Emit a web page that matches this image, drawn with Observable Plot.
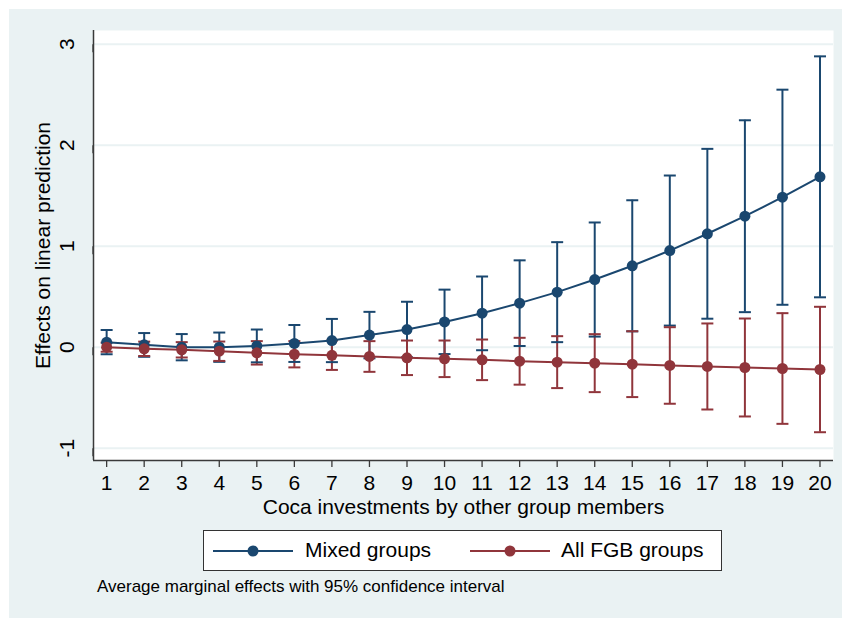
<!DOCTYPE html>
<html><head><meta charset="utf-8">
<script src="https://cdn.jsdelivr.net/npm/d3@7"></script>
<script src="https://cdn.jsdelivr.net/npm/@observablehq/plot@0.6"></script>
<style>
body{margin:0;background:#fff;}
#wrap{position:relative;width:842px;height:618px;font-family:"Liberation Sans",Arial,Helvetica,sans-serif;color:#000;overflow:hidden;}
#panel{position:absolute;left:9px;top:9px;width:833px;height:609px;background:#eaf2f3;}
#chart{position:absolute;left:0;top:0;}
#legend{position:absolute;left:203px;top:530px;width:517px;height:39px;border:1px solid #333;background:#fff;}
.sw{position:absolute;top:10px;}
.lt{position:absolute;top:7px;font-size:21px;line-height:24px;white-space:nowrap;}
#caption{position:absolute;left:97px;top:577px;font-size:17px;line-height:20px;white-space:nowrap;}
</style>
</head><body>
<div id="wrap"><div id="panel"></div><div id="chart"></div>
<div id="legend"></div>
<div id="caption"></div>
</div>
<script>
// ---- data ----
const investments = [1,2,3,4,5,6,7,8,9,10,11,12,13,14,15,16,17,18,19,20];
const seriesNames = ["Mixed groups", "All FGB groups"];
const seriesColors = ["#1a476f", "#90353b"];
const mixedMean = [0.05,0.024,0.0,0.0,0.013,0.037,0.066,0.12,0.175,0.25,0.337,0.436,0.545,0.67,0.806,0.957,1.123,1.297,1.485,1.687];
const mixedLo   = [-0.07,-0.095,-0.13,-0.145,-0.15,-0.146,-0.148,-0.11,-0.10,-0.068,-0.03,0.012,0.05,0.105,0.157,0.214,0.282,0.347,0.42,0.494];
const mixedHi   = [0.17,0.14,0.13,0.145,0.175,0.22,0.28,0.35,0.45,0.57,0.70,0.86,1.04,1.235,1.455,1.70,1.964,2.247,2.55,2.88];
const fgbMean   = [0.0,-0.016,-0.026,-0.04,-0.056,-0.07,-0.08,-0.092,-0.105,-0.115,-0.125,-0.139,-0.148,-0.158,-0.168,-0.181,-0.191,-0.201,-0.211,-0.221];
const fgbLo     = [-0.045,-0.087,-0.102,-0.136,-0.172,-0.2,-0.225,-0.244,-0.276,-0.296,-0.326,-0.371,-0.405,-0.445,-0.494,-0.56,-0.617,-0.686,-0.759,-0.842];
const fgbHi     = [0.045,0.055,0.05,0.056,0.06,0.06,0.065,0.06,0.066,0.066,0.076,0.093,0.109,0.129,0.158,0.198,0.235,0.284,0.337,0.40];
const yTicks = [-1,0,1,2,3];
const xTitle = "Coca investments by other group members";
const yTitle = "Effects on linear prediction";
const captionText = "Average marginal effects with 95% confidence interval";

const xDomain = [0.65, 20.36];
const yDomain = [-1.122, 3.136];

const rows = [];
investments.forEach((x,i)=>rows.push({series:seriesNames[0], x, mean:mixedMean[i], lo:mixedLo[i], hi:mixedHi[i]}));
investments.forEach((x,i)=>rows.push({series:seriesNames[1], x, mean:fgbMean[i], lo:fgbLo[i], hi:fgbHi[i]}));

const cap = {draw(ctx){ ctx.moveTo(-6,0); ctx.lineTo(6,0); }};
const axisColor = "#3a3a3a";

const plot = Plot.plot({
  width: 842, height: 618,
  marginLeft: 93, marginRight: 9, marginTop: 30, marginBottom: 158,
  style: {background: "transparent", fontFamily: "'Liberation Sans', Arial, Helvetica, sans-serif", color: "#000"},
  x: {domain: xDomain},
  y: {domain: yDomain},
  color: {domain: seriesNames, range: seriesColors},
  marks: [
    Plot.frame({fill: "white", stroke: "none"}),
    Plot.gridY(yTicks, {stroke: "#eaf2f3", strokeOpacity: 1, strokeWidth: 2}),
    Plot.axisY({ticks: yTicks, tickSize: 8, tickPadding: 18, rotate: -90, textAnchor: "middle", fontSize: 21, label: null, stroke: axisColor, strokeWidth: 1.3, tickFormat: d => String(d)}),
    Plot.axisX({ticks: investments, tickSize: 7, tickPadding: 8, fontSize: 21, label: null, stroke: axisColor, strokeWidth: 1.3, tickFormat: d => String(d)}),
    Plot.ruleX([xDomain[0]], {stroke: axisColor, strokeWidth: 1.5}),
    Plot.ruleY([yDomain[0]], {stroke: axisColor, strokeWidth: 1.5}),
    Plot.ruleX(rows, {x: "x", y1: "lo", y2: "hi", stroke: "series", strokeWidth: 2}),
    Plot.dot(rows, {x: "x", y: "lo", symbol: cap, stroke: "series", fill: "none", strokeWidth: 2}),
    Plot.dot(rows, {x: "x", y: "hi", symbol: cap, stroke: "series", fill: "none", strokeWidth: 2}),
    Plot.line(rows, {x: "x", y: "mean", z: "series", stroke: "series", strokeWidth: 2}),
    Plot.dot(rows, {x: "x", y: "mean", fill: "series", stroke: "none", r: 5.5}),
    Plot.text([yTitle], {text: d => d, frameAnchor: "left", dx: -50, rotate: -90, textAnchor: "middle", lineAnchor: "middle", fontSize: 21}),
    Plot.text([xTitle], {text: d => d, frameAnchor: "bottom", dy: 47, textAnchor: "middle", lineAnchor: "middle", fontSize: 21})
  ]
});
document.getElementById("chart").appendChild(plot);

// legend
const legend = document.getElementById("legend");
const swX = [8, 265], txtX = [101, 357];
seriesNames.forEach((name, i) => {
  const s = d3.select(legend).append("svg").attr("class","sw").attr("width",82).attr("height",20)
    .style("left", swX[i] + "px");
  s.append("line").attr("x1",1).attr("x2",81).attr("y1",10).attr("y2",10).attr("stroke",seriesColors[i]).attr("stroke-width",2);
  s.append("circle").attr("cx",41).attr("cy",10).attr("r",5.5).attr("fill",seriesColors[i]);
  d3.select(legend).append("div").attr("class","lt").style("left", txtX[i] + "px").text(name);
});
document.getElementById("caption").textContent = captionText;
</script>
</body></html>
